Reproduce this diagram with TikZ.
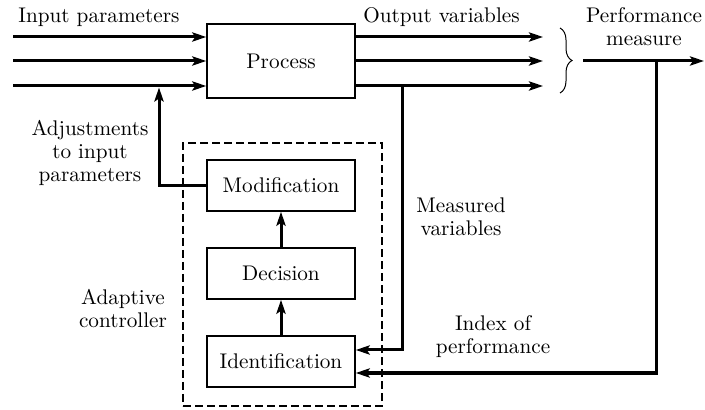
\documentclass[tikz,border=0pt]{standalone}
\usetikzlibrary{arrows.meta,decorations.pathreplacing}

\begin{document}
\begin{tikzpicture}[x=0.5pt,y=-0.5pt,
		font=\fontsize{10.6}{11.5}\selectfont,
		block/.style={draw,line width=0.75pt,minimum width=74pt,minimum height=25.5pt,inner sep=0pt},
		flow/.style={line width=1.5pt,-{Stealth[length=7pt,width=4.6pt,inset=1.5pt]}},
		lbl/.style={align=center,inner sep=0pt}]
			%%%%% START %%%%%
			\useasboundingbox (0,0) rectangle (705,410);
			
			\node[block,minimum height=37pt] (process) at (281,61) {Process};
			\node[block] (modif) at (281,185.5) {Modification};
			\node[block] (decis) at (281,273.5) {Decision};
			\node[block] (ident) at (281,361.5) {Identification};
			\node[draw,line width=0.6pt,dash pattern=on 4pt off 2pt,minimum width=99.5pt,minimum height=131.5pt,inner sep=0pt] (ctrl) at (282.5,274.5) {};
			
			\foreach \y/\n in {37/1,61/2,86/3} {
				\coordinate (in\n) at (13,\y);
				\draw[flow] (in\n) -- (in\n -| process.west);
				\coordinate (out\n) at (543,\y);
				\draw[flow] (out\n -| process.east) -- (out\n);
			}
			
			\coordinate (brtop) at (560,28);
			\coordinate (brbot) at (560,93);
			\draw[decorate,decoration={brace,amplitude=6pt},line width=0.5pt] (brtop) -- (brbot);
			
			\coordinate (pm) at (583,61);
			\coordinate (pend) at (704,61);
			\draw[flow] (pm) -- (pend);
			\coordinate (ptap) at (656,61);
			\coordinate (p1) at (656,373);
			\draw[flow] (ptap) -- (p1) -- (p1 -| ident.east);
			
			\coordinate (tap) at (402,86);
			\coordinate (m1) at (402,350);
			\draw[flow] (tap) -- (m1) -- (m1 -| ident.east);
			
			\coordinate (a1) at (159,185.5);
			\draw[flow,shorten >=0.75pt] (modif.west) -- (a1) -- (a1 |- in3);
			
			\draw[flow] (ident) -- (decis);
			\draw[flow] (decis) -- (modif);
			
			\node[lbl,anchor=west] (inlbl) at (18,17) {Input parameters};
			\node[lbl,anchor=west] (outlbl) at (363,17) {Output variables};
			\node[lbl] (perflbl) at (644,27) {Performance\\measure};
			\node[lbl] (adjlbl) at (90,153) {Adjustments\\to input\\parameters};
			\node[lbl] (measlbl) at (461,217) {Measured\\variables};
			\node[lbl] (ctrllbl) at (123,309) {Adaptive\\controller};
			\node[lbl] (idxlbl) at (493,337) {Index of\\performance};
			%%%%% END %%%%%
		\end{tikzpicture}
\end{document}
